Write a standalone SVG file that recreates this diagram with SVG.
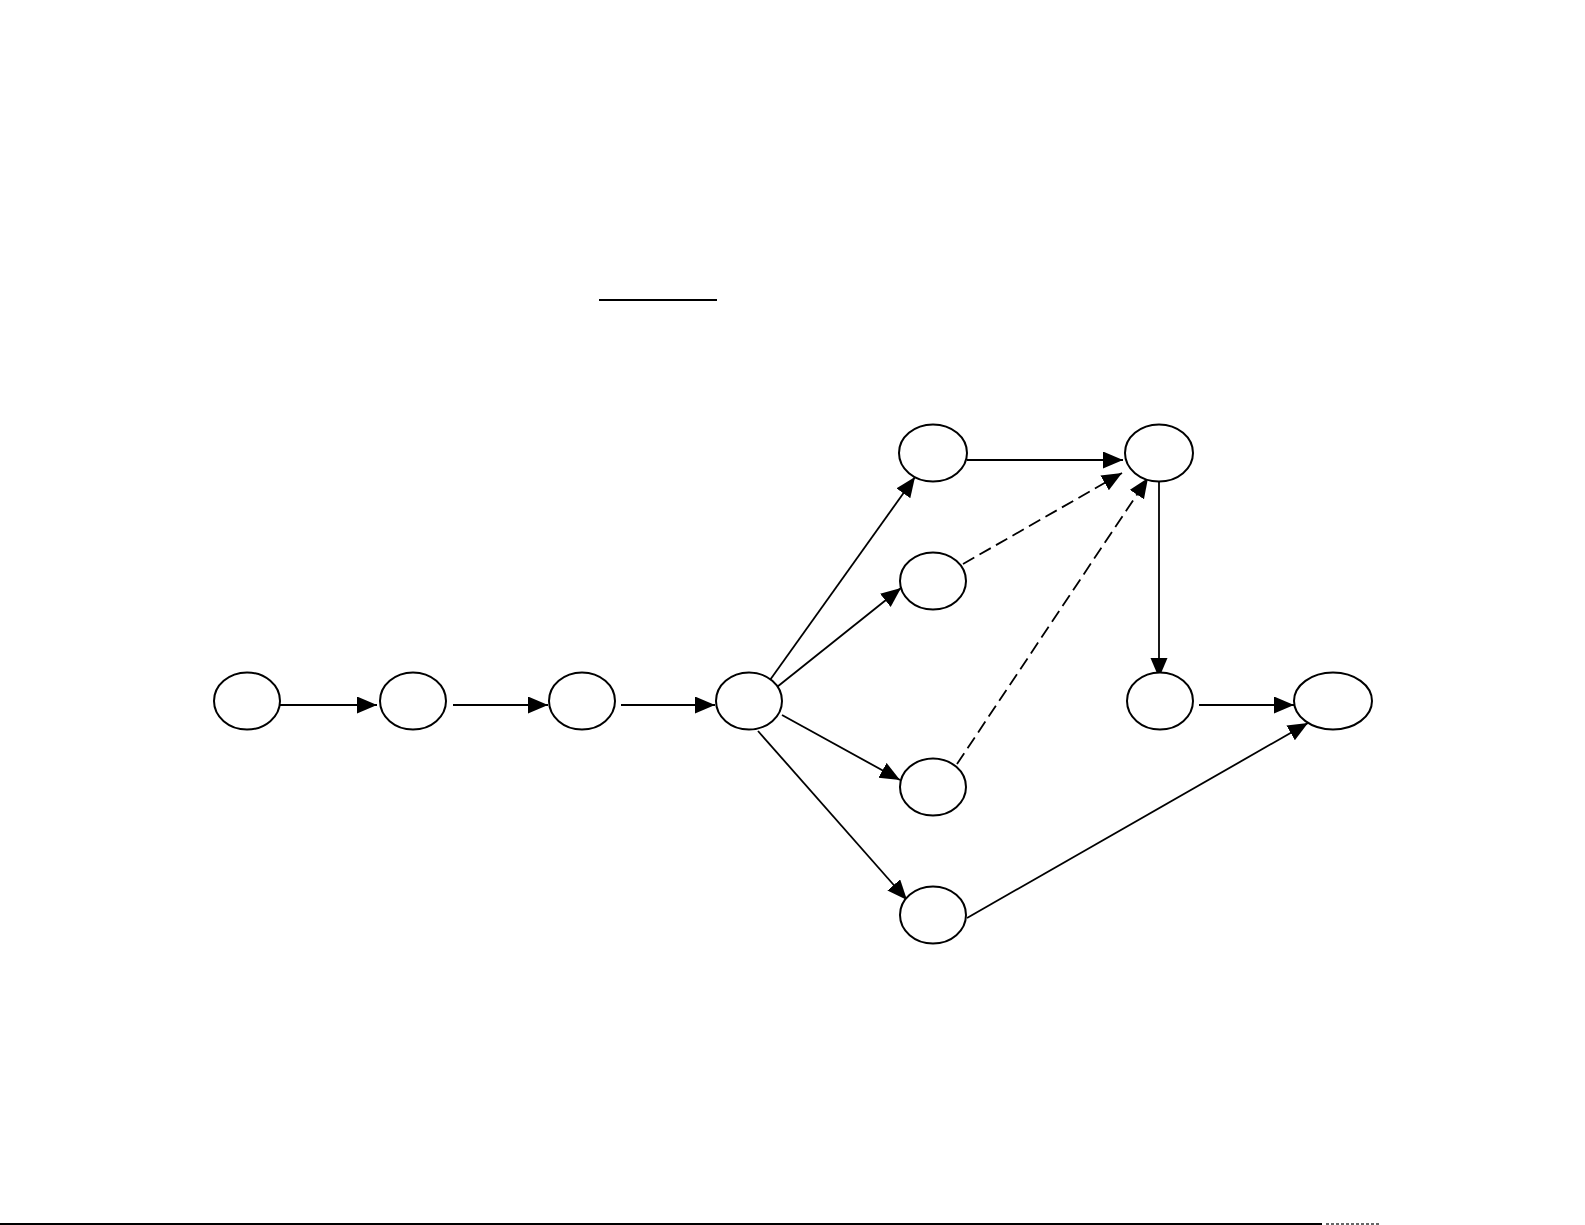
<svg xmlns="http://www.w3.org/2000/svg" width="1585" height="1225" viewBox="0 0 1585 1225">
<defs>
<style>
.node{fill:#fff;stroke:#000;stroke-width:2}
.edge{fill:none;stroke:#000;stroke-width:1.8}
.dash{stroke-dasharray:13 6}
</style>
<marker id="ah" markerUnits="userSpaceOnUse" markerWidth="21" markerHeight="18" refX="20" refY="8.5" orient="auto" viewBox="0 0 21 18">
<path d="M0,0 L20,8.5 L0,17 z" fill="#000"/>
</marker>
</defs>
<rect width="1585" height="1225" fill="#fff"/>
<line x1="599" y1="300" x2="717" y2="300" stroke="#000" stroke-width="2"/>
<line x1="0" y1="1224" x2="1322" y2="1224" stroke="#000" stroke-width="2"/>
<line x1="1326" y1="1224" x2="1379" y2="1224" stroke="#666" stroke-width="2" stroke-dasharray="3 2"/>
<g id="connectors">
<line class="edge" x1="280" y1="705" x2="377" y2="705" marker-end="url(#ah)"/>
<line class="edge" x1="453" y1="705" x2="548" y2="705" marker-end="url(#ah)"/>
<line class="edge" x1="621" y1="705" x2="715" y2="705" marker-end="url(#ah)"/>
<line class="edge" x1="770" y1="680" x2="915" y2="477" marker-end="url(#ah)"/>
<line class="edge" x1="777" y1="687" x2="901" y2="588" marker-end="url(#ah)"/>
<line class="edge" x1="782" y1="715" x2="900" y2="780" marker-end="url(#ah)"/>
<line class="edge" x1="758" y1="731" x2="907" y2="900" marker-end="url(#ah)"/>
<line class="edge" x1="967" y1="460" x2="1123" y2="460" marker-end="url(#ah)"/>
<line class="edge dash" x1="963" y1="564" x2="1122" y2="473" marker-end="url(#ah)"/>
<line class="edge dash" x1="957" y1="764" x2="1148" y2="478" marker-end="url(#ah)"/>
<line class="edge" x1="1159" y1="482" x2="1159" y2="678" marker-end="url(#ah)"/>
<line class="edge" x1="1199" y1="705" x2="1294" y2="705" marker-end="url(#ah)"/>
<line class="edge" x1="967" y1="918" x2="1308" y2="723" marker-end="url(#ah)"/>
</g>
<g id="n1"><ellipse class="node" cx="247" cy="701" rx="33" ry="28.5"/></g>
<g id="n2"><ellipse class="node" cx="413" cy="701" rx="33" ry="28.5"/></g>
<g id="n3"><ellipse class="node" cx="582" cy="701" rx="33" ry="28.5"/></g>
<g id="n4"><ellipse class="node" cx="749" cy="701" rx="33" ry="28.5"/></g>
<g id="n5"><ellipse class="node" cx="933" cy="453" rx="34" ry="28.5"/></g>
<g id="n6"><ellipse class="node" cx="933" cy="581" rx="33" ry="28.5"/></g>
<g id="n7"><ellipse class="node" cx="933" cy="787" rx="33" ry="28.5"/></g>
<g id="n8"><ellipse class="node" cx="933" cy="915" rx="33" ry="28.5"/></g>
<g id="n9"><ellipse class="node" cx="1159" cy="453" rx="34" ry="28.5"/></g>
<g id="n10"><ellipse class="node" cx="1160" cy="701" rx="33" ry="28.5"/></g>
<g id="n11"><ellipse class="node" cx="1333" cy="701" rx="39" ry="28.5"/></g>
</svg>
